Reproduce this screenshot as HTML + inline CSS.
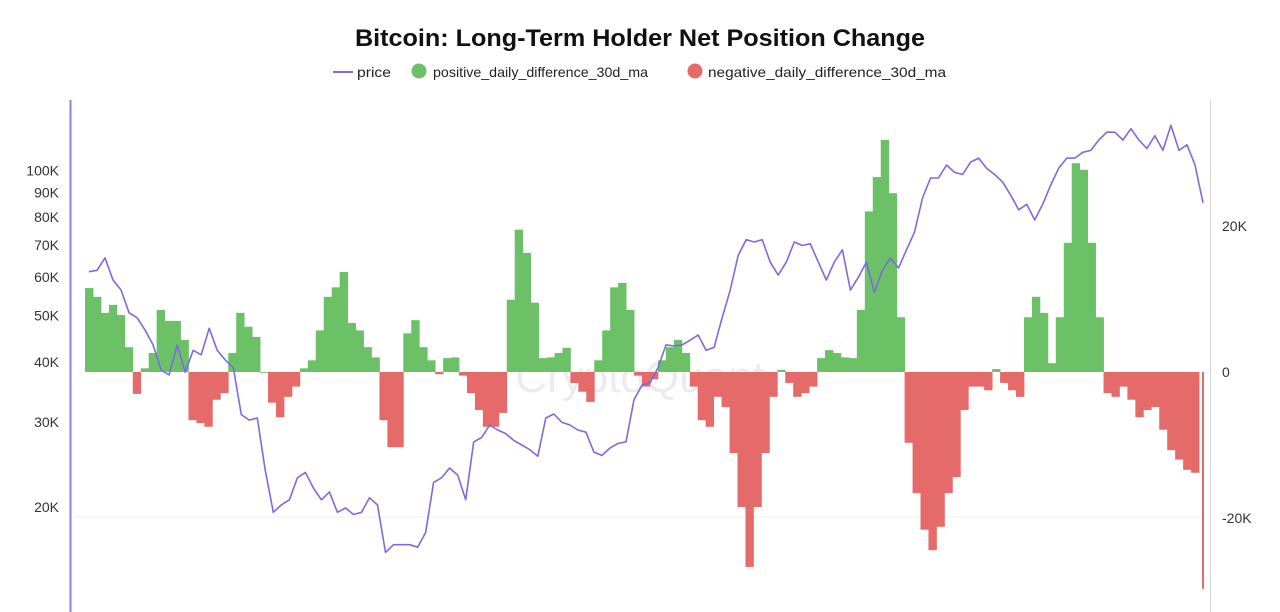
<!DOCTYPE html>
<html><head><meta charset="utf-8"><style>
html,body{margin:0;padding:0;background:#fff;}
svg{display:block;font-family:"Liberation Sans",sans-serif;}
</style></head><body>
<svg id="chart" width="1280" height="612" viewBox="0 0 1280 612" xmlns="http://www.w3.org/2000/svg">
<defs><clipPath id="pc"><rect x="71" y="95" width="1133" height="517"/></clipPath></defs>
<text x="640" y="46" text-anchor="middle" font-size="24" font-weight="bold" fill="#111" textLength="570" lengthAdjust="spacingAndGlyphs">Bitcoin: Long-Term Holder Net Position Change</text>
<g font-size="14" fill="#222">
 <g><line x1="333" y1="72" x2="353" y2="72" stroke="#7b6be0" stroke-width="2"/><text x="357" y="77" textLength="34" lengthAdjust="spacingAndGlyphs">price</text></g>
 <g><circle cx="419" cy="71" r="7.5" fill="#6cc167"/><text x="433" y="77" textLength="215" lengthAdjust="spacingAndGlyphs">positive_daily_difference_30d_ma</text></g>
 <g><circle cx="695" cy="71" r="7.5" fill="#e56a6a"/><text x="708" y="77" textLength="238" lengthAdjust="spacingAndGlyphs">negative_daily_difference_30d_ma</text></g>
</g>
<line x1="75" y1="517" x2="1205" y2="517" stroke="#f2f2f2" stroke-width="1"/>
<text x="640" y="392" text-anchor="middle" font-size="44" fill="#ececf0">CryptoQuant</text>
<line x1="70.5" y1="100" x2="70.5" y2="612" stroke="#8b80ea" stroke-width="2"/>
<line x1="1210.5" y1="100" x2="1210.5" y2="612" stroke="#d6d6d6" stroke-width="1"/>
<g id="leftTicks" font-size="14" fill="#333" text-anchor="end"></g>
<g id="rightTicks" font-size="14" fill="#333"></g>
<g id="bars" clip-path="url(#pc)"></g>
<path id="priceLine" fill="none" stroke="#7b6be0" stroke-width="1.6" stroke-linejoin="round"/>
</svg>
<script>
const priceK = [61.6,62,65.8,59.2,56.4,50.6,49.4,46.6,43.4,38.5,37.6,43.4,38.1,42.3,41.4,47,42.3,40.4,38.9,31.1,30.3,30.6,23.8,19.5,20.2,20.7,23,23.6,21.9,20.7,21.5,19.5,19.9,19.3,19.5,20.9,20.2,16.1,16.7,16.7,16.7,16.5,17.7,22.5,23,24.1,23.3,20.7,27.3,27.9,29.6,28.9,28.4,27.5,26.9,26.3,25.5,30.6,31.2,30,29.6,28.9,28.6,26,25.6,26.5,27.1,27.3,33.4,35.8,36.2,38.9,43.4,43.2,43.4,44.4,45.5,42.3,42.9,49.4,56.4,66.6,71.8,71,71.8,64.5,60.6,64.5,71,69.8,70.4,64.5,59.2,64.5,68.4,56.4,60,64.5,55.8,62,65.8,62.7,68.4,74.4,87.6,96.4,96.4,102.6,99,98,104,106,101,98,94.6,88.8,82.8,85,78.9,85,93.2,101,106,106,109,110,115.6,120,120,115.6,122,115.6,111,118,110,124,110,113,102.6,85.6];
const netK = [11.5,10.3,8.1,9.2,7.8,3.4,-3.0,0.5,2.6,8.5,7,7,4.4,-6.6,-7,-7.5,-3.8,-2.9,2.6,8.1,6.2,4.8,0,-4.2,-6.2,-3.4,-2,0.5,1.6,5.7,10.3,11.6,13.7,6.7,5.7,3.4,2,-6.6,-10.3,-10.3,5.3,7.1,3.4,1.6,-0.3,1.9,2,-0.5,-2.9,-5.2,-7.5,-7.5,-5.6,9.9,19.5,16.3,9.5,1.9,2,2.6,3.3,-1.5,-2.7,-4.1,1.6,5.7,11.6,12.2,8.5,-0.5,-2,-1,1.6,3.4,4.4,2.6,-2,-6.6,-7.5,-3.4,-4.8,-11.1,-18.5,-26.7,-18.5,-11.1,-3.4,0.3,-1.5,-3.4,-2.9,-2,1.9,3,2.6,2,1.9,8.5,22,26.7,31.8,24.5,7.5,-9.7,-16.6,-21.6,-24.4,-21.2,-16.6,-14.4,-5.2,-2,-2,-2.5,0.4,-1.5,-2.5,-3.4,7.5,10.3,8.1,1.2,7.5,17.7,28.6,27.7,17.7,7.5,-2.9,-3.4,-2,-3.8,-6.2,-5.2,-4.8,-7.9,-10.7,-12,-13.4,-13.8,-29.7];
const leftTickVals = [20,30,40,50,60,70,80,90,100];
const leftTickLabels = ["20K","30K","40K","50K","60K","70K","80K","90K","100K"];
const rightTickVals = [-20,0,20];
const rightTickLabels = ["-20K","0","20K"];

const NS="http://www.w3.org/2000/svg";
const X0=89, X1=1203;
function yPrice(k){return 507-145*Math.log2(k/20);}
function yNet(k){return 372-7.3*k;}
function xAt(i,n){return X0+(X1-X0)*i/(n-1);}

const lt=document.getElementById('leftTicks');
leftTickVals.forEach((v,i)=>{
  const t=document.createElementNS(NS,'text');
  
  
  t.setAttribute('x',59);t.setAttribute('y',yPrice(v)+5);
  t.textContent=leftTickLabels[i];lt.appendChild(t);
});
const rt=document.getElementById('rightTicks');
rightTickVals.forEach((v,i)=>{
  const t=document.createElementNS(NS,'text');
  
  
  t.setAttribute('x',1222);t.setAttribute('y',yNet(v)+5);
  t.textContent=rightTickLabels[i];rt.appendChild(t);
});

const bg=document.getElementById('bars');
const n=netK.length, step=(X1-X0)/(n-1);
netK.forEach((v,i)=>{
  const x=xAt(i,n);
  const y0=yNet(0), y1=yNet(v);
  const r=document.createElementNS(NS,'rect');
  
  
  const w = i===n-1 ? 2 : step+0.4;
  r.setAttribute('x',i===n-1 ? x-1 : x-step/2);
  r.setAttribute('width',w);
  r.setAttribute('y',Math.min(y0,y1));
  r.setAttribute('height',Math.max(0.8,Math.abs(y1-y0)));
  r.setAttribute('fill',v>=0?'#6cc167':'#e56a6a');
  bg.appendChild(r);
});

let d='';
priceK.forEach((p,i)=>{d+=(i?'L':'M')+xAt(i,priceK.length).toFixed(1)+','+yPrice(p).toFixed(1);});
document.getElementById('priceLine').setAttribute('d',d);
</script>
</body></html>
